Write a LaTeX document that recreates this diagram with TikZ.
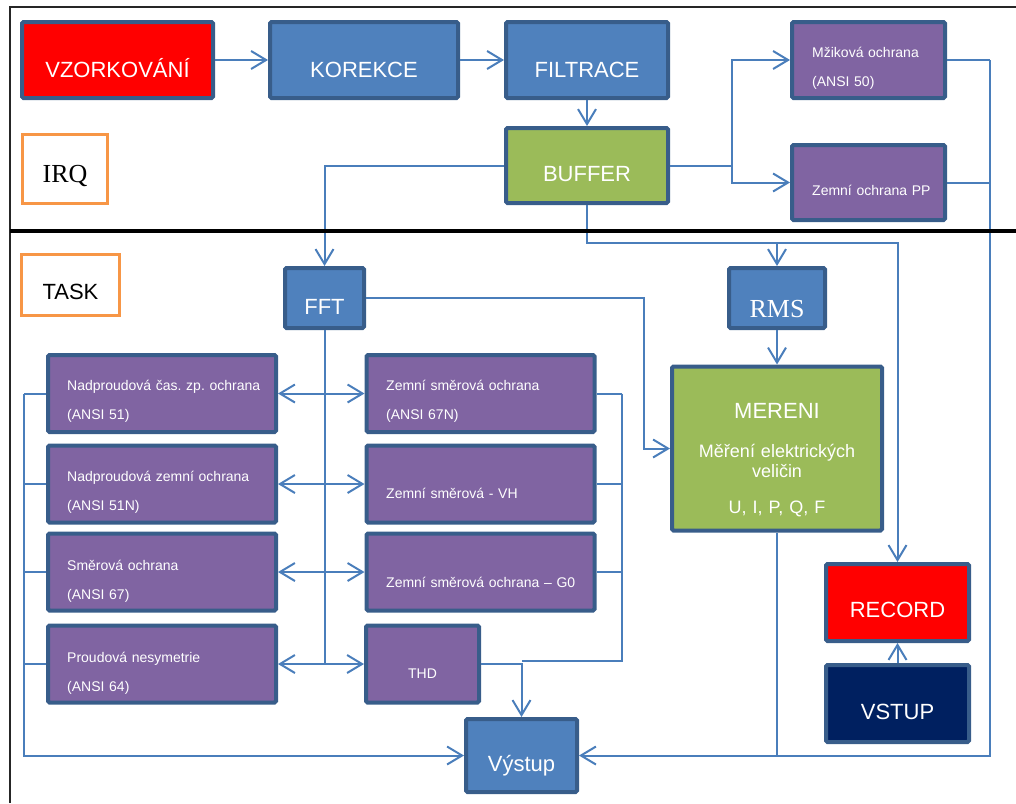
\documentclass[tikz,border=0pt]{standalone}
\usepackage{fontspec}
\setmainfont{Liberation Sans}
\newfontfamily\timesrm{Liberation Serif}
\usetikzlibrary{arrows.meta}
\frenchspacing

\definecolor{blockblue}{HTML}{4F81BD}
\definecolor{blockedge}{HTML}{385D8A}
\definecolor{blockgreen}{HTML}{9BBB59}
\definecolor{blockviolet}{HTML}{8064A2}
\definecolor{blockred}{HTML}{FF0000}
\definecolor{blocknavy}{HTML}{002060}
\definecolor{tagorange}{HTML}{F79646}
\definecolor{wireblue}{HTML}{4A7EBB}

\begin{document}
\begin{tikzpicture}[x=1pt,y=-1pt,
  >={Straight Barb[length=15pt,width=18pt]},
  blk/.style={draw=blockedge, line width=4pt, rounded corners=1.5pt, inner sep=0pt, text=white, font=\fontsize{22}{26}\selectfont},
  txtlow/.style={text height=#1, text depth=0pt},
  prot/.style={blk, fill=blockviolet, minimum width=228, minimum height=77},
  ptext/.style={text=white, font=\fontsize{14}{29}\selectfont, text width=210pt, align=left, anchor=base west, inner sep=0pt},
  tag/.style={draw=tagorange, line width=3pt, fill=white, inner sep=0pt, text=black},
  wire/.style={draw=wireblue, line width=2pt}]
\useasboundingbox (0,0) rectangle (1016,803);
\draw[black!85, line width=1.5pt] (10,803) -- (10,7) -- (1016,7);

% IRQ part
\node[blk, fill=blockred, minimum width=191, minimum height=76, txtlow=34pt] (vzork) at (117.5,60) {VZORKOVÁNÍ};
\node[blk, fill=blockblue, minimum width=188, minimum height=76, txtlow=34pt] (korekce) at (364,60) {KOREKCE};
\node[blk, fill=blockblue, minimum width=162, minimum height=76, txtlow=34pt] (filtrace) at (587,60) {FILTRACE};
\node[blk, fill=blockgreen, minimum width=162, minimum height=75, txtlow=32.4pt] (buffer) at (587,165.5) {BUFFER};
\node[blk, fill=blockviolet, minimum width=153, minimum height=76] (okamz) at (868.5,60) {};
\node[ptext] (okamzTxt) at (812,57) {Mžiková ochrana\\(ANSI 50)};
\node[blk, fill=blockviolet, minimum width=153, minimum height=75] (zemPP) at (868.5,182.5) {};
\node[ptext] (zemPPTxt) at (812,195) {Zemní ochrana PP};
\node[tag, minimum width=85, minimum height=69, font=\timesrm\fontsize{26}{30}\selectfont, txtlow=27.4pt] (irq) at (65,169) {IRQ};

% TASK part
\node[tag, minimum width=98, minimum height=61, font=\fontsize{22}{26}\selectfont, txtlow=28.6pt] (task) at (70.5,285) {TASK};
\node[blk, fill=blockblue, minimum width=79, minimum height=60, txtlow=32.6pt] (fft) at (324.5,298) {FFT};
\node[blk, fill=blockblue, minimum width=96, minimum height=60, font=\timesrm\fontsize{26}{30}\selectfont, txtlow=38.6pt] (rms) at (777,298) {RMS};
\node[blk, fill=blockgreen, minimum width=210, minimum height=164, text width=200pt, align=center,
      font=\fontsize{18}{20}\selectfont, text height=0pt, text depth=61pt] (mereni) at (777,448.5)
      {{\fontsize{22}{20}\selectfont MERENI}\\[19pt] Měření elektrických\\veličin\\[16pt] U, I, P, Q, F};

\node[prot] (nadp1) at (162,393.5) {};
\node[ptext] (nadp1Txt) at (67,390.7) {Nadproudová čas. zp. ochrana\\(ANSI 51)};
\node[prot] (nadp2) at (162,484) {};
\node[ptext] (nadp2Txt) at (67,481.7) {Nadproudová zemní ochrana\\(ANSI 51N)};
\node[prot] (smer) at (162,572) {};
\node[ptext] (smerTxt) at (67,570) {Směrová ochrana\\(ANSI 67)};
\node[prot] (nesym) at (162,664) {};
\node[ptext] (nesymTxt) at (67,662) {Proudová nesymetrie\\(ANSI 64)};
\node[prot] (zsmer1) at (480.5,393.5) {};
\node[ptext] (zsmer1Txt) at (386,390.7) {Zemní směrová ochrana\\(ANSI 67N)};
\node[prot] (zsmer2) at (480.5,484) {};
\node[ptext] (zsmer2Txt) at (386,498) {Zemní směrová - VH};
\node[prot] (zsmer3) at (480.5,572) {};
\node[ptext] (zsmer3Txt) at (386,587) {Zemní směrová ochrana – G0};
\node[prot, minimum width=113, font=\fontsize{14}{16}\selectfont, txtlow=28pt] (thd) at (422.5,664) {THD};

\node[blk, fill=blockblue, minimum width=111, minimum height=73, txtlow=32.4pt] (vystup) at (521.5,755.5) {Výstup};
\node[blk, fill=blockred, minimum width=143, minimum height=77, txtlow=29.6pt] (record) at (897.5,602.5) {RECORD};
\node[blk, fill=blocknavy, minimum width=143, minimum height=77, txtlow=31.6pt] (vstup) at (897.5,703.5) {VSTUP};

% connections
\draw[wire,->] (vzork) -- (korekce);
\draw[wire,->] (korekce) -- (filtrace);
\draw[wire,->] (filtrace) -- (buffer);
\draw[wire,->] (buffer.east) -- ++(62,0) coordinate (bsplit) |- (okamz.west);
\draw[wire,->] (bsplit) |- (zemPP.west);
\draw[wire,->] (buffer.west) -| (fft.north);
\draw[wire,->] (buffer.south) -- ++(0,38) coordinate (bdown) -| (record.north);
\draw[wire,->] (bdown -| rms.north) -- (rms.north);
\draw[wire,->] (rms) -- (mereni);
\draw[wire] (okamz.east) -- ++(43,0) coordinate (rtop);
\draw[wire] (zemPP.east) -- (zemPP.east -| rtop);
\draw[wire,->] (rtop) |- (vystup.east);
\draw[wire] (mereni.south) -- (mereni.south |- vystup.east);
\draw[wire,->] (fft.east) -- ++(278,0) |- (mereni.west);
\draw[wire] (fft.south) -- (fft.south |- nesym.east);
\foreach \l/\r in {nadp1/zsmer1, nadp2/zsmer2, smer/zsmer3, nesym/thd}
  \draw[wire,<->] (\l.east) -- (\r.west);
\coordinate (lbus) at (24,755.5);
\foreach \l in {nadp1,nadp2,smer,nesym}
  \draw[wire] (\l.west) -- (\l.west -| lbus);
\draw[wire,->] (nadp1.west -| lbus) |- (vystup.west);
\coordinate (rbus) at (622,661);
\foreach \r in {zsmer1,zsmer2,zsmer3}
  \draw[wire] (\r.east) -- (\r.east -| rbus);
\draw[wire] (zsmer1.east -| rbus) -- (rbus) -- (rbus -| vystup.north);
\draw[wire,->] (thd.east) -| (vystup.north);
\draw[wire,->] (vstup) -- (record);

\draw[black, line width=4pt] (10,231) -- (1016,231);
\end{tikzpicture}
\end{document}
